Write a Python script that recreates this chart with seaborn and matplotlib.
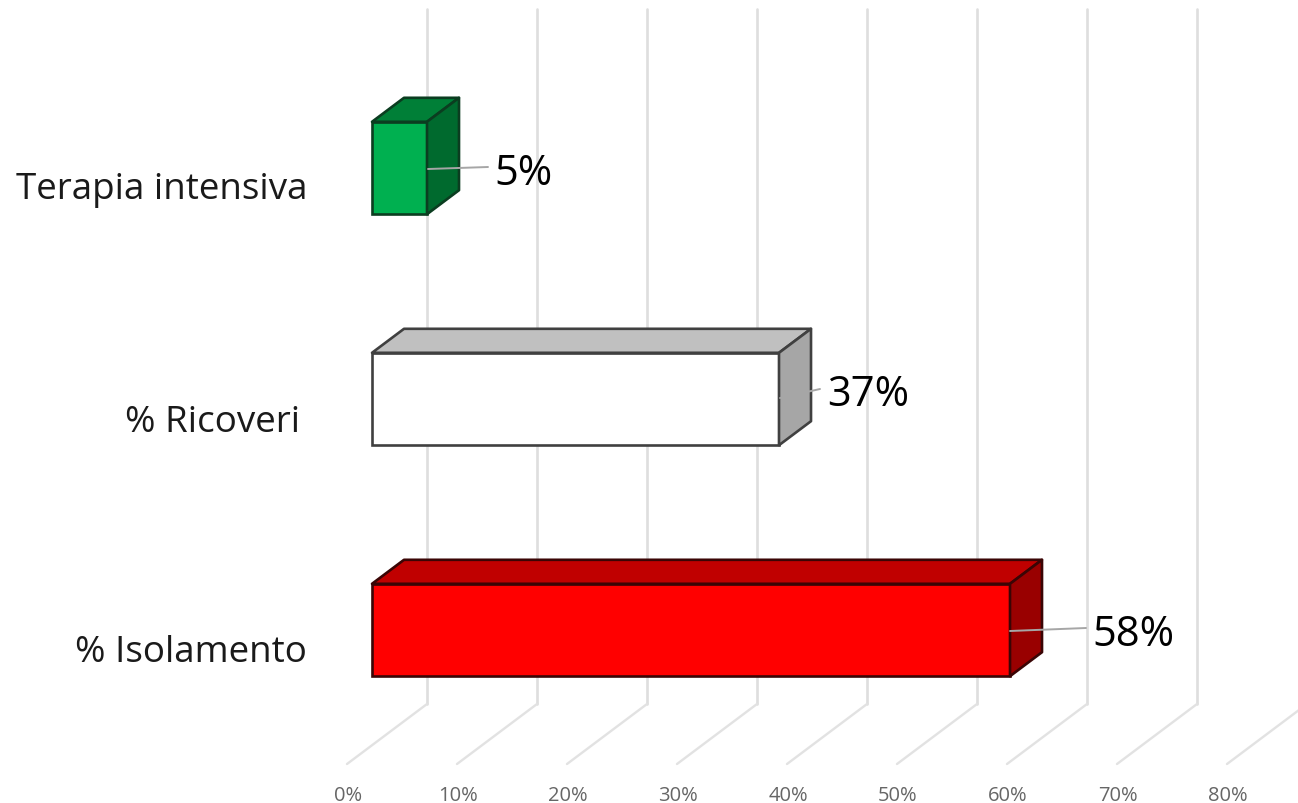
import matplotlib
matplotlib.use("Agg")
import matplotlib.pyplot as plt
from matplotlib.patches import Polygon
import pandas as pd
import seaborn as sns

categories = ["Terapia intensiva", "% Ricoveri", "% Isolamento"]
values = [5, 37, 58]
tick_values = [0, 10, 20, 30, 40, 50, 60, 70, 80]
front_colors = ["#00b050", "#ffffff", "#ff0000"]
top_colors = ["#007f37", "#c0c0c0", "#c00000"]
side_colors = ["#006a2e", "#a6a6a6", "#990000"]
edge_colors = ["#0b3d20", "#404040", "#3a0505"]
label_right_px = [307, 300, 307]
label_y_px = [190, 423, 653]
leader_px = [((428, 170), (488, 168)), ((780, 399), (820, 390)), ((1010, 632), (1086, 629))]
value_xy_px = [(494, 174), (827, 395), (1092, 635)]

W, H = 1298, 804
AX_BOTTOM = 765
X0, PX_PER_PCT = 372, 11.0
Y0, PX_PER_CAT = 169, 231.0


def dx(px):
    return (px - X0) / PX_PER_PCT


def dy(py):
    return (py - Y0) / PX_PER_CAT


sns.set_theme(style="white")
plt.rcParams["font.family"] = ["Open Sans", "DejaVu Sans"]

fig = plt.figure(figsize=(W / 100, H / 100), dpi=100)
ax = fig.add_axes([0, (H - AX_BOTTOM) / H, 1, AX_BOTTOM / H])

df = pd.DataFrame({"cat": categories, "val": values})
sns.barplot(data=df, y="cat", x="val", hue="cat", palette=front_colors, legend=False,
            width=0.4, ax=ax, zorder=3, linewidth=1.9, edgecolor="#404040", saturation=1)

ax.set_xlim(dx(0), dx(W))
ax.set_ylim(dy(AX_BOTTOM), dy(0))
ax.set_xlabel("")
ax.set_ylabel("")
sns.despine(ax=ax, left=True, bottom=True, top=True, right=True)
ax.set_yticks([])

# Back wall: each gridline bends forward to the floor, where its tick label sits
DEPTH_X = 80 / PX_PER_PCT
top_y, bend_y, foot_y = dy(10), dy(705), dy(765)
for t in tick_values:
    foot = dx(347) + t
    back = foot + DEPTH_X
    ax.plot([back, back], [top_y, bend_y], color="#dedede", lw=1.9, zorder=1, solid_joinstyle="miter")
    ax.plot([back, foot], [bend_y, foot_y], color="#e2e2e2", lw=1.7, zorder=1, clip_on=False)

ax.set_xticks([dx(348) + t for t in tick_values])
ax.set_xticklabels([f"{t}%" for t in tick_values], fontsize=14.5, color="#666666")
ax.tick_params(axis="x", length=0, pad=15)

# Extruded faces of each bar
ox, oy = 32 / PX_PER_PCT, 24 / PX_PER_CAT
half = 0.2
for i, patch in enumerate(ax.patches):
    patch.set_edgecolor(edge_colors[i])
    v = values[i]
    ax.add_patch(Polygon([(0, i - half), (ox, i - half - oy), (v + ox, i - half - oy), (v, i - half)],
                         facecolor=top_colors[i], edgecolor=edge_colors[i], lw=1.9, zorder=3,
                         joinstyle="round"))
    ax.add_patch(Polygon([(v, i - half), (v + ox, i - half - oy), (v + ox, i + half - oy), (v, i + half)],
                         facecolor=side_colors[i], edgecolor=edge_colors[i], lw=1.9, zorder=3,
                         joinstyle="round"))
    (xa, ya), (xb, yb) = leader_px[i]
    ax.plot([dx(xa), dx(xb)], [dy(ya), dy(yb)], color="#a6a6a6", lw=1.4, zorder=4)
    vx, vy = value_xy_px[i]
    ax.text(dx(vx), dy(vy), f"{v}%", fontsize=30, color="#000000", ha="left", va="center", zorder=5)
    ax.text(dx(label_right_px[i]), dy(label_y_px[i]), categories[i], fontsize=26.5, color="#1a1a1a",
            ha="right", va="center", zorder=5)

fig.savefig("out.png", dpi=100, facecolor="white")
